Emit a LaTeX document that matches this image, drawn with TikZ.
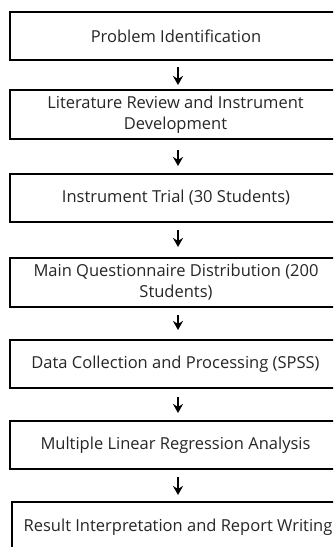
\documentclass[tikz,border=0pt]{standalone}
\usepackage{fontspec}
\setmainfont{Open Sans}
\usetikzlibrary{arrows.meta}
\begin{document}
\begin{tikzpicture}[x=1pt,y=-1pt,
  box/.style={draw=black, line width=2pt, minimum width=332pt, inner sep=0pt,
    align=center, font=\fontsize{16.5}{21}\selectfont, text=black!85},
  flow/.style={line width=2pt, -{Stealth[length=9pt,width=10pt]}}]
\clip (0,0) rectangle (333,547);
\fill[white] (0,0) rectangle (333,547);
\node[box, minimum height=48pt] (b1) at (176,36) {Problem Identification};
\node[box, minimum height=49pt] (b2) at (175.5,114.5) {Literature Review and Instrument\\Development};
\node[box, minimum height=48pt] (b3) at (176,198) {Instrument Trial (30 Students)};
\node[box, minimum height=49pt] (b4) at (176,282.5) {Main Questionnaire Distribution (200\\Students)};
\node[box, minimum height=48pt] (b5) at (175.5,364) {Data Collection and Processing (SPSS)};
\node[box, minimum height=48pt] (b6) at (175.5,445) {Multiple Linear Regression Analysis};
\node[box, minimum height=50pt] (b7) at (178,527) {Result Interpretation and Report Writing};
\draw[flow, shorten <=6pt, shorten >=4pt] (b1.south -| 178,0) -- (b2.north -| 178,0);
\draw[flow, shorten <=10pt, shorten >=7pt] (b2.south -| 178,0) -- (b3.north -| 178,0);
\draw[flow, shorten <=7pt, shorten >=10pt] (b3.south -| 178,0) -- (b4.north -| 178,0);
\draw[flow, shorten <=7pt, shorten >=9pt] (b4.south -| 178,0) -- (b5.north -| 178,0);
\draw[flow, shorten <=8pt, shorten >=7pt] (b5.south -| 178,0) -- (b6.north -| 178,0);
\draw[flow, shorten <=7pt, shorten >=6pt] (b6.south -| 178,0) -- (b7.north -| 178,0);
\end{tikzpicture}
\end{document}
